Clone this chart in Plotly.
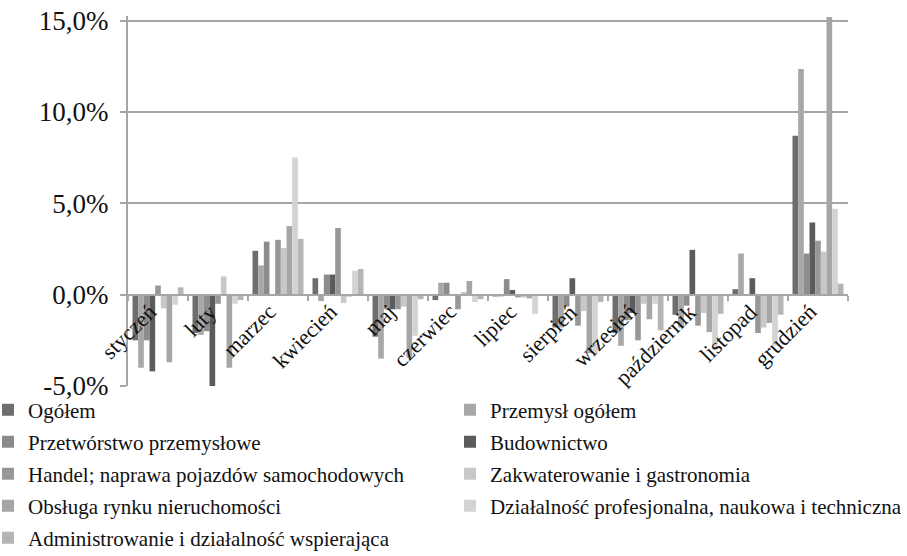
import plotly.graph_objects as go

months = ['styczeń', 'luty', 'marzec', 'kwiecień', 'maj', 'czerwiec', 'lipiec',
          'sierpień', 'wrzesień', 'październik', 'listopad', 'grudzień']

series_names = ['Ogółem', 'Przemysł ogółem', 'Przetwórstwo przemysłowe', 'Budownictwo',
                'Handel; naprawa pojazdów samochodowych', 'Zakwaterowanie i gastronomia',
                'Obsługa rynku nieruchomości', 'Działalność profesjonalna, naukowa i techniczna',
                'Administrowanie i działalność wspierająca']

ogolem = [-2.5, -2.1, 2.4, 0.9, -2.3, -0.3, -0.1, -1.8, -2.1, -1.1, 0.3, 8.7]
przemysl = [-4.0, -2.2, 1.6, -0.35, -3.5, 0.65, -0.1, -1.8, -2.8, -1.8, 2.25, 12.35]
przetworstwo = [-2.5, -2.0, 2.9, 1.1, -0.8, 0.65, 0.85, -0.65, -1.4, -0.6, 0.0, 2.25]
budownictwo = [-4.2, -5.0, 0.0, 1.1, -0.8, 0.0, 0.25, 0.9, -1.0, 2.45, 0.9, 3.95]
handel = [0.5, -0.5, 3.0, 3.65, -0.8, -0.8, -0.15, -1.7, -2.5, -1.7, -2.1, 2.95]
zakwaterowanie = [-0.75, 1.0, 2.55, -0.45, -0.65, 0.15, -0.15, -0.9, -0.5, -1.0, -1.8, 2.35]
obsluga = [-3.7, -4.0, 3.75, -0.1, -3.45, 0.75, -0.2, -3.2, -1.35, -2.05, -1.55, 15.2]
dzialalnosc = [-0.55, -0.5, 7.5, 1.3, -2.25, -0.4, -1.05, -3.2, -0.5, -3.0, -2.8, 4.7]
administrowanie = [0.4, -0.3, 3.05, 1.4, -0.25, -0.25, 0.0, -0.4, -1.95, -1.05, -1.1, 0.6]

series_values = [ogolem, przemysl, przetworstwo, budownictwo, handel,
                 zakwaterowanie, obsluga, dzialalnosc, administrowanie]
colors = ['#6e6e6e', '#a8a8a8', '#8c8c8c', '#5c5c5c', '#989898',
          '#c8c8c8', '#a6a6a6', '#d3d3d3', '#b5b5b5']

y_tickvals = [-5, 0, 5, 10, 15]
y_ticktext = ['-5,0%', '0,0%', '5,0%', '10,0%', '15,0%']

FONT = 'Liberation Serif, Times New Roman, serif'
W, H = 907, 556
ML, MR, MT, MB = 128, 59, 16, 170
PW, PH = W - ML - MR, H - MT - MB
y_min, y_max = -5, 15.25

# legend layout: two columns, rows listed left-to-right
col_left_px = [-12, 450]
row_center_px = [410, 442, 474, 506, 538]

fig = go.Figure()
legend_layouts = {}
for i, (name, vals, col) in enumerate(zip(series_names, series_values, colors)):
    lid = 'legend' if i == 0 else f'legend{i + 1}'
    fig.add_trace(go.Bar(x=months, y=vals, name=name, marker_color=col,
                         marker_line_width=0, legend=lid))
    r, c = divmod(i, 2)
    legend_layouts[lid] = dict(
        x=(col_left_px[c] - ML) / PW,
        y=-(row_center_px[r] - (MT + PH)) / PH,
        xanchor='left', yanchor='middle', orientation='h',
        bgcolor='rgba(0,0,0,0)', borderwidth=0,
        font=dict(family=FONT, size=21, color='#111'),
        itemclick=False, itemdoubleclick=False,
    )

for m in months:
    fig.add_annotation(x=m, y=0, xref='x', yref='y', text=m, showarrow=False,
                       textangle=-45, xanchor='right', yanchor='top',
                       xshift=6, yshift=-2,
                       font=dict(family=FONT, size=22, color='#111'))

fig.update_layout(
    width=W, height=H,
    margin=dict(l=ML, r=MR, t=MT, b=MB, autoexpand=False),
    paper_bgcolor='white', plot_bgcolor='white',
    barmode='group', bargap=0.15, bargroupgap=0,
    font=dict(family=FONT, size=21, color='#111'),
    showlegend=True,
    xaxis=dict(type='category', range=[-0.5, len(months) - 0.5],
               anchor='free', position=(0 - y_min) / (y_max - y_min),
               showticklabels=False, showgrid=False, showline=True,
               linecolor='#a6a6a6', linewidth=2,
               ticks='outside', tickson='boundaries', ticklen=5,
               tickcolor='#a6a6a6', tickwidth=2, zeroline=False),
    yaxis=dict(range=[y_min, y_max], tickvals=y_tickvals, ticktext=y_ticktext,
               showgrid=True, gridcolor='#a6a6a6', gridwidth=2,
               showline=True, linecolor='#a6a6a6', linewidth=2,
               ticks='outside', ticklen=6, tickcolor='#a6a6a6', tickwidth=2,
               ticklabelstandoff=6,
               zeroline=False, tickfont=dict(family=FONT, size=27, color='#111')),
    **legend_layouts,
)

fig.write_html('out.html', config={'displayModeBar': False},
               post_script="document.body.style.margin='0px';")
